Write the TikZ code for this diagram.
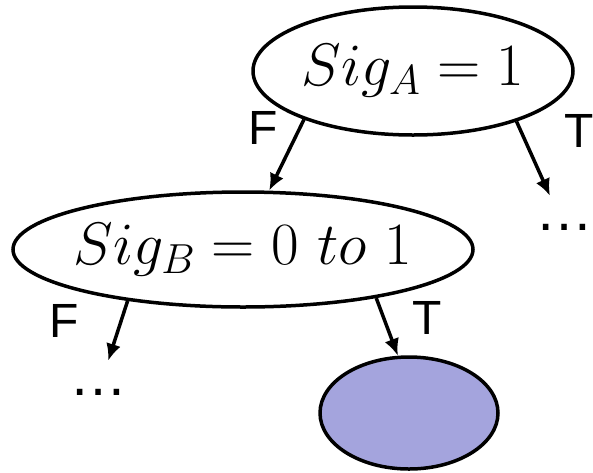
\RequirePackage{fix-cm}
\documentclass[tikz,border=0pt]{standalone}
\usepackage{fontspec}
\usetikzlibrary{shapes.geometric,arrows.meta}
\newfontfamily\labelfont{Liberation Sans}
\definecolor{leafblue}{HTML}{A4A4DD}
\tikzset{test/.style={draw,ellipse,line width=3.5pt,inner sep=0pt,inner xsep=-40pt,font=\fontsize{60}{60}\selectfont},leaf/.style={test,fill=leafblue},more/.style={font=\labelfont\fontsize{58}{58}\selectfont,inner sep=0pt,minimum height=62pt},branch/.style={font=\labelfont\fontsize{48}{48}\selectfont,inner sep=0pt},link/.style={draw,-{Latex[length=17pt,width=15pt]},line width=3.5pt}}

\begin{document}
\begin{tikzpicture}[x=1pt,y=-1pt]
\useasboundingbox (0,0) rectangle (593,472);
\node[test,minimum width=320pt,minimum height=128pt] (siga) at (413,71) {$Sig_A = 1$\hspace{16pt}};
\node[test,minimum width=460pt,minimum height=115pt] (sigb) at (243,249.5) {$Sig_B = 0\ to\ 1$\hspace{26pt}};
\node[leaf,minimum width=178pt,minimum height=112pt] (out) at (409,413) {};
\node[more] (mored) at (564,227) {…};
\node[more] (morel) at (98,392) {…};
\node[branch] (fa) at (263,128) {F};
\node[branch] (ta) at (579,131) {T};
\node[branch] (fb) at (64,321) {F};
\node[branch] (tb) at (427,318) {T};
\draw[link] (siga.204) -- (sigb.66);
\draw[link] (siga.-26) -- (mored);
\draw[link] (sigb.204) -- (morel);
\draw[link] (sigb.-20) -- (out.101);
\end{tikzpicture}
\end{document}
